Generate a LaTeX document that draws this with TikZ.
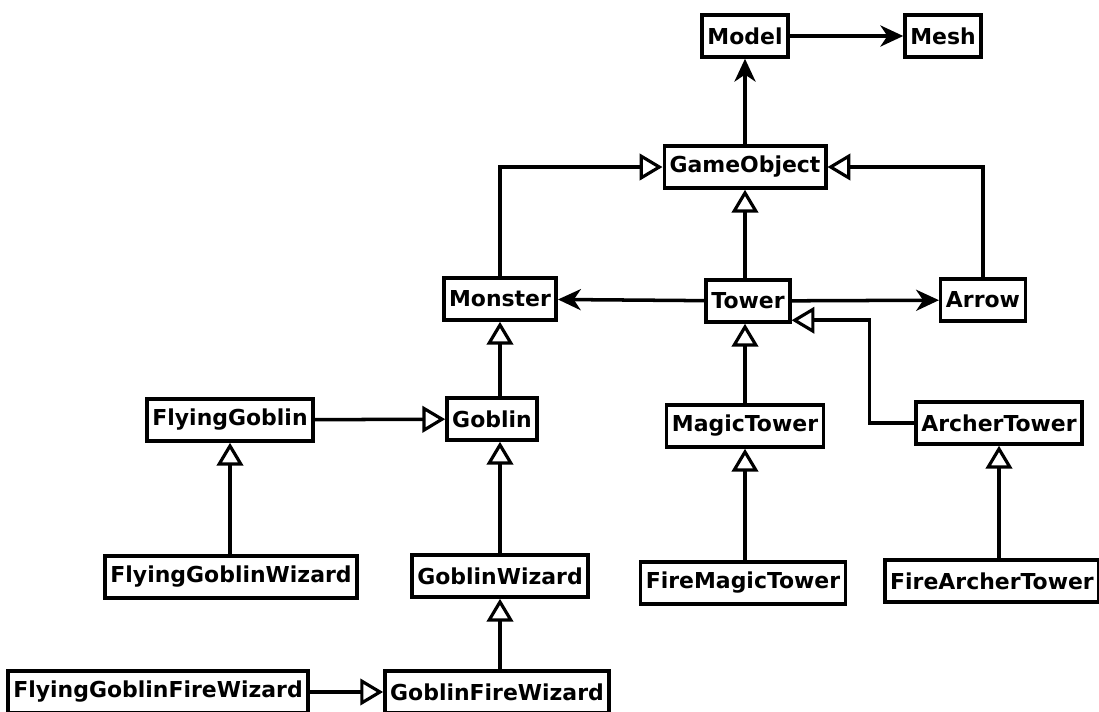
\documentclass[tikz,border=0pt]{standalone}
\usepackage{fontspec}
\setmainfont{DejaVu Sans}
\usetikzlibrary{arrows.meta}
\tikzset{
  cls/.style={draw, line width=2pt, inner xsep=3pt, minimum height=0.84cm,
    font=\bfseries\fontsize{12.5}{15}\selectfont},
  inh/.style={-{Triangle[open, length=13pt, width=15pt, line width=1.8pt]}},
  use/.style={-{Stealth[length=13pt, width=12pt, inset=4pt]}},
}
\begin{document}
\begin{tikzpicture}[x=0.02cm, y=-0.02cm, line width=2pt]
  \useasboundingbox (0,0) rectangle (1099,711);
  \draw
    (745,36) node[cls] (model){Model}
    (943,36) node[cls] (mesh){Mesh}
    (745,167) node[cls] (gameobject){GameObject}
    (500,299) node[cls] (monster){Monster}
    (748,301) node[cls] (tower){Tower}
    (983,300) node[cls] (arrow){Arrow}
    (230,420) node[cls] (flyinggoblin){FlyingGoblin}
    (492,419) node[cls] (goblin){Goblin}
    (745,426) node[cls] (magictower){MagicTower}
    (999,423) node[cls] (archertower){ArcherTower}
    (231,577) node[cls] (flyinggoblinwizard){FlyingGoblinWizard}
    (500,576) node[cls] (goblinwizard){GoblinWizard}
    (743,583) node[cls] (firemagictower){FireMagicTower}
    (992,581) node[cls] (firearchertower){FireArcherTower}
    (158,692) node[cls] (flyinggoblinfirewizard){FlyingGoblinFireWizard}
    (497,692) node[cls] (goblinfirewizard){GoblinFireWizard};
  \begin{scope}[use]
    \draw (model) to (mesh);
    \draw (gameobject) to (model);
    \draw (tower) to (monster);
    \draw (tower) to (arrow);
  \end{scope}
  \begin{scope}[inh]
    \draw (monster.north) |- (gameobject.west);
    \draw (arrow.north) |- (gameobject.east);
    \draw (tower.north -| gameobject) to (gameobject);
    \draw (magictower) to (magictower |- tower.south);
    \draw (archertower.west) -- ++(-45,0) |- ([yshift=2pt]tower.south east);
    \draw (goblin.north -| monster) to (monster);
    \draw (flyinggoblin) to (goblin);
    \draw (flyinggoblinwizard.north -| flyinggoblin) to (flyinggoblin);
    \draw (goblinwizard.north) to (goblinwizard.north |- goblin.south);
    \draw (goblinfirewizard.north -| goblinwizard) to (goblinwizard);
    \draw (firemagictower.north -| magictower) to (magictower);
    \draw (firearchertower.north -| archertower) to (archertower);
    \draw (flyinggoblinfirewizard) to (goblinfirewizard);
  \end{scope}
\end{tikzpicture}
\end{document}
